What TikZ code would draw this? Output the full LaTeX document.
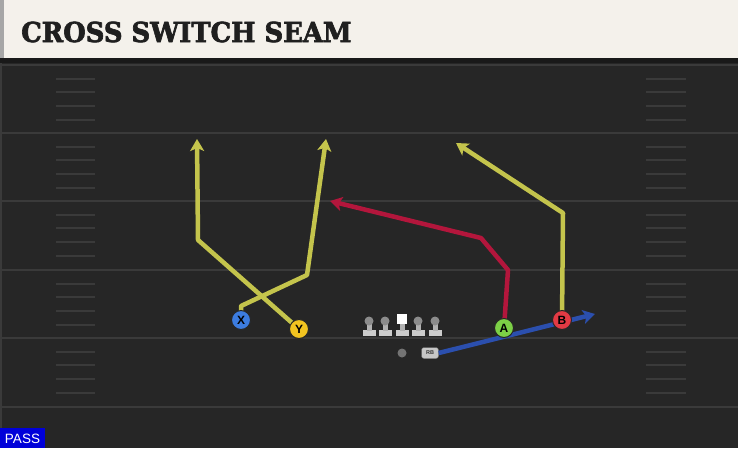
\documentclass[tikz,border=0pt]{standalone}
\usepackage{fontspec}
\setmainfont{Liberation Sans}
\newfontfamily\slabfont{DejaVu Serif}[BoldFeatures={FakeBold=2.5}]
\usetikzlibrary{arrows.meta}
\definecolor{campo}{HTML}{262626}
\definecolor{linhacampo}{HTML}{3A3A3A}
\definecolor{cabecalho}{HTML}{F4F1EB}
\definecolor{rotaamarela}{HTML}{C4C44C}
\definecolor{rotavermelha}{HTML}{B3163C}
\definecolor{rotaazul}{HTML}{2B4FAE}
\definecolor{jogX}{HTML}{3C7CE0}
\definecolor{jogY}{HTML}{F2C420}
\definecolor{jogA}{HTML}{7CD046}
\definecolor{jogB}{HTML}{E23A44}
\tikzset{
  rota/.style={line width=4.5pt, line join=round, -{Stealth[length=12pt,width=14pt,inset=3pt]}},
  jogador/.style={circle, draw=black!85, line width=1pt, minimum size=19pt, inner sep=0pt, font=\bfseries\fontsize{12}{12}\selectfont},
  marca/.style={linhacampo, line width=1.8pt},
}
\begin{document}
\begin{tikzpicture}[x=1pt,y=-1pt] %Desenho em pixels, y para baixo
	\useasboundingbox (0,0) rectangle (738,448);
		%Campo
	\fill[campo] (0,58) rectangle (738,448);
	\fill[black!90] (0,58) rectangle (738,63);
	\foreach \y in {65,133,201,270,338,407}
		\draw[linhacampo, line width=2pt] (0,\y) -- (738,\y); %Linhas de jarda
	\foreach \s in {65,133,201,270,338}
		\foreach \d in {14,27,41,55}{
			\draw[marca] (56,\s+\d) -- (95,\s+\d); %Marcas esquerda
			\draw[marca] (646,\s+\d) -- (686,\s+\d); %Marcas direita
		}
	\fill[linhacampo] (0,63) rectangle (2,448);
		%Cabecalho
	\fill[cabecalho] (0,0) rectangle (738,58);
	\fill[black!35] (0,0) rectangle (4,58);
	\node[anchor=west, inner sep=0pt, text=black!88] (titulo) at (21,32)
		{\scalebox{0.94}[1]{\slabfont\bfseries\fontsize{27.5}{27.5}\selectfont CROSS SWITCH SEAM}};
		%Jogadores
	\node[jogador, fill=jogX] (X) at (241,320) {X};
	\node[jogador, fill=jogY] (Y) at (299,329) {Y};
	\node[jogador, fill=jogA] (A) at (504,328) {A};
	\node[jogador, fill=jogB] (B) at (562,320) {B};
	\node[circle, fill=black!55, minimum size=9pt, inner sep=0pt] (qb) at (402,353) {};
	\node[rounded corners=2.5pt, fill=black!22, draw=black!60, minimum width=17pt, minimum height=11pt, inner sep=0pt, font=\bfseries\fontsize{5.5}{5.5}\selectfont, text=black!80] (rb) at (430,353) {RB};
		%Pontos das rotas
	\coordinate (x1) at (241,306);
	\coordinate (x2) at (307,275);
	\coordinate (x3) at (326,139);
	\coordinate (y1) at (198,240);
	\coordinate (y2) at (197,139);
	\coordinate (a1) at (508,270);
	\coordinate (a2) at (481,238);
	\coordinate (a3) at (330,201);
	\coordinate (b1) at (563,213);
	\coordinate (b2) at (456,143);
	\coordinate (rb1) at (595,314);
		%Rotas
	\draw[rota, rotaazul] (rb.east) -- (rb1);
	\draw[rota, rotaamarela] (X.center) -- (x1) -- (x2) -- (x3);
	\draw[rota, rotaamarela] (Y.center) -- (y1) -- (y2);
	\draw[rota, rotavermelha] (A.center) -- (a1) -- (a2) -- (a3);
	\draw[rota, rotaamarela] (B.center) -- (b1) -- (b2);
		%Jogadores por cima das rotas
	\node[jogador, fill=jogX] at (X) {X};
	\node[jogador, fill=jogY] at (Y) {Y};
	\node[jogador, fill=jogA] at (A) {A};
	\node[jogador, fill=jogB] at (B) {B};
		%Linha ofensiva
	\foreach \x in {369,385,418,435}{
		\fill[black!20] (\x-6.5,330) rectangle (\x+6.5,336);
		\fill[black!30] (\x-2.5,321) rectangle (\x+2.5,331);
		\fill[black!45] (\x,321) circle (4.5pt);
	}
	\fill[black!20] (395.5,330) rectangle (408.5,336);
	\fill[black!30] (399.5,323) rectangle (404.5,331);
	\fill[white] (397,314) rectangle (407,324);
		%Tag
	\fill[blue!85!black] (0,428) rectangle (45,448);
	\node[text=white, font=\fontsize{13.5}{13.5}\selectfont, inner sep=0pt] (tag) at (22.5,438.5) {PASS};
\end{tikzpicture}
\end{document}
